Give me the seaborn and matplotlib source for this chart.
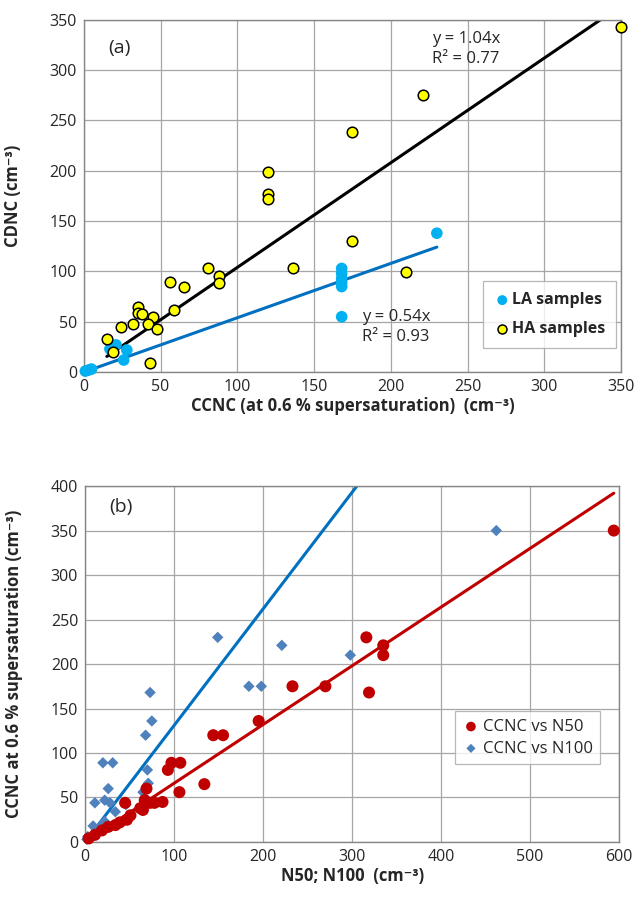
import matplotlib
matplotlib.use("Agg")
import matplotlib.pyplot as plt
import numpy as np
import seaborn as sns

# panel (a): CDNC vs CCNC
la_x = [1, 3, 5, 17, 21, 28, 26, 168, 168, 168, 168, 168, 168, 230]
la_y = [1, 2, 3, 23, 27, 22, 12, 103, 98, 93, 89, 85, 55, 138]
ha_x = [175, 120, 120, 120, 350, 221, 175, 81, 136, 88, 88, 56, 65, 59,
        35, 35, 38, 45, 42, 48, 32, 24, 15, 19, 43, 210]
ha_y = [239, 199, 177, 172, 343, 275, 130, 103, 103, 95, 89, 90, 85, 62,
        65, 59, 58, 55, 48, 43, 48, 45, 33, 20, 9, 99]
slope_la, r2_la = 0.54, 0.93
slope_ha, r2_ha = 1.04, 0.77

# panel (b): CCNC vs N50 / N100
n50_x = [594, 316, 335, 335, 319, 270, 233, 195, 144, 155, 134, 106, 97, 107,
         93, 87, 78, 73, 69, 67, 65, 62, 51, 47, 45, 39, 34, 26, 19, 11, 4]
n50_y = [350, 230, 221, 210, 168, 175, 175, 136, 120, 120, 65, 56, 89, 89,
         81, 45, 44, 44, 60, 47, 36, 38, 30, 25, 44, 22, 19, 17, 13, 8, 4]
n100_x = [462, 298, 149, 221, 184, 198, 73, 75, 68, 20, 31, 70, 71, 65,
          26, 11, 22, 28, 46, 34, 19, 22, 9, 3, 2]
n100_y = [350, 210, 230, 221, 175, 175, 168, 136, 120, 89, 89, 81, 66, 56,
          60, 44, 47, 44, 42, 34, 19, 23, 18, 6, 3]
slope_n50 = 0.66
slope_n100 = 1.31

sns.set_style("white")
plt.rcParams['font.family'] = ['Open Sans', 'DejaVu Sans']

GRID = '#a6a6a6'
SPINE = '#868686'


def style_axes(ax, xmax, xstep, ymax, ystep):
    ax.set_xlim(0, xmax)
    ax.set_ylim(0, ymax)
    ax.set_xticks(np.arange(0, xmax + 1, xstep))
    ax.set_yticks(np.arange(0, ymax + 1, ystep))
    ax.grid(True, color=GRID, lw=0.9)
    ax.set_axisbelow(True)
    for s in ax.spines.values():
        s.set_color(SPINE)
        s.set_linewidth(1.0)
    ax.tick_params(axis='both', direction='out', length=3, color=SPINE,
                   labelsize=11.5, pad=2)


def fit_line(ax, xs, slope, color):
    x = np.array([min(xs), max(xs)])
    ax.plot(x, slope * x, color=color, lw=2.2, zorder=2)


fig = plt.figure(figsize=(6.35, 9.01), dpi=100)

# ---------- (a)
ax1 = fig.add_axes([0.132, 0.587, 0.846, 0.391])
style_axes(ax1, 350, 50, 350, 50)
fit_line(ax1, la_x, slope_la, '#0070c0')
fit_line(ax1, ha_x, slope_ha, 'black')
sns.scatterplot(x=la_x, y=la_y, ax=ax1, color='#00b0f0', edgecolor='none',
                s=70, label='LA samples', zorder=3, clip_on=False)
sns.scatterplot(x=ha_x, y=ha_y, ax=ax1, color='#ffff00', edgecolor='black',
                linewidth=1.1, s=58, label='HA samples', zorder=4, clip_on=False)
ax1.set_xlabel('CCNC (at 0.6 % supersaturation)  (cm⁻³)', fontsize=12,
               fontweight='bold', labelpad=1.5)
ax1.set_ylabel('CDNC (cm⁻³)', fontsize=12, fontweight='bold', labelpad=20)
ax1.text(0.045, 0.92, '(a)', transform=ax1.transAxes, fontsize=14, va='center')
ax1.text(227, 339, f'y = {slope_ha:.2f}x\nR² = {r2_ha:.2f}', fontsize=12,
         va='top', linespacing=1.35)
ax1.text(181, 63, f'y = {slope_la:.2f}x\nR² = {r2_la:.2f}', fontsize=12,
         va='top', linespacing=1.35)
leg = ax1.legend(loc='lower right', bbox_to_anchor=(1.006, 0.045),
                 prop={'weight': 'bold', 'size': 11.5}, frameon=True,
                 fancybox=False, edgecolor=GRID, handletextpad=0.1,
                 borderpad=0.7, labelspacing=0.8, handlelength=1.0,
                 markerscale=0.85)
leg.get_frame().set_linewidth(0.9)

# ---------- (b)
ax2 = fig.add_axes([0.134, 0.0655, 0.841, 0.395])
style_axes(ax2, 600, 100, 400, 50)
sns.scatterplot(x=n100_x, y=n100_y, ax=ax2, color='#4f81bd', marker='D',
                edgecolor='none', s=34, label='CCNC vs N100', zorder=3,
                clip_on=False)
sns.scatterplot(x=n50_x, y=n50_y, ax=ax2, color='#c00000', marker='o',
                edgecolor='none', s=75, label='CCNC vs N50', zorder=3,
                clip_on=False)
fit_line(ax2, n50_x, slope_n50, '#c00000')
fit_line(ax2, n100_x, slope_n100, '#0070c0')
ax2.set_xlabel('N50; N100  (cm⁻³)', fontsize=12, fontweight='bold', labelpad=1.5)
ax2.set_ylabel('CCNC at 0.6 % supersaturation (cm⁻³)', fontsize=12,
               fontweight='bold', labelpad=20)
ax2.text(0.045, 0.94, '(b)', transform=ax2.transAxes, fontsize=14, va='center')
h, l = ax2.get_legend_handles_labels()
leg2 = ax2.legend(h[::-1], l[::-1], loc='lower right',
                  bbox_to_anchor=(0.98, 0.195), prop={'size': 12},
                  frameon=True, fancybox=False, edgecolor=GRID,
                  handletextpad=0.2, borderpad=0.45, labelspacing=0.35,
                  handlelength=1.0, markerscale=0.8)
leg2.get_frame().set_linewidth(0.9)

fig.savefig('out.png', dpi=100)
